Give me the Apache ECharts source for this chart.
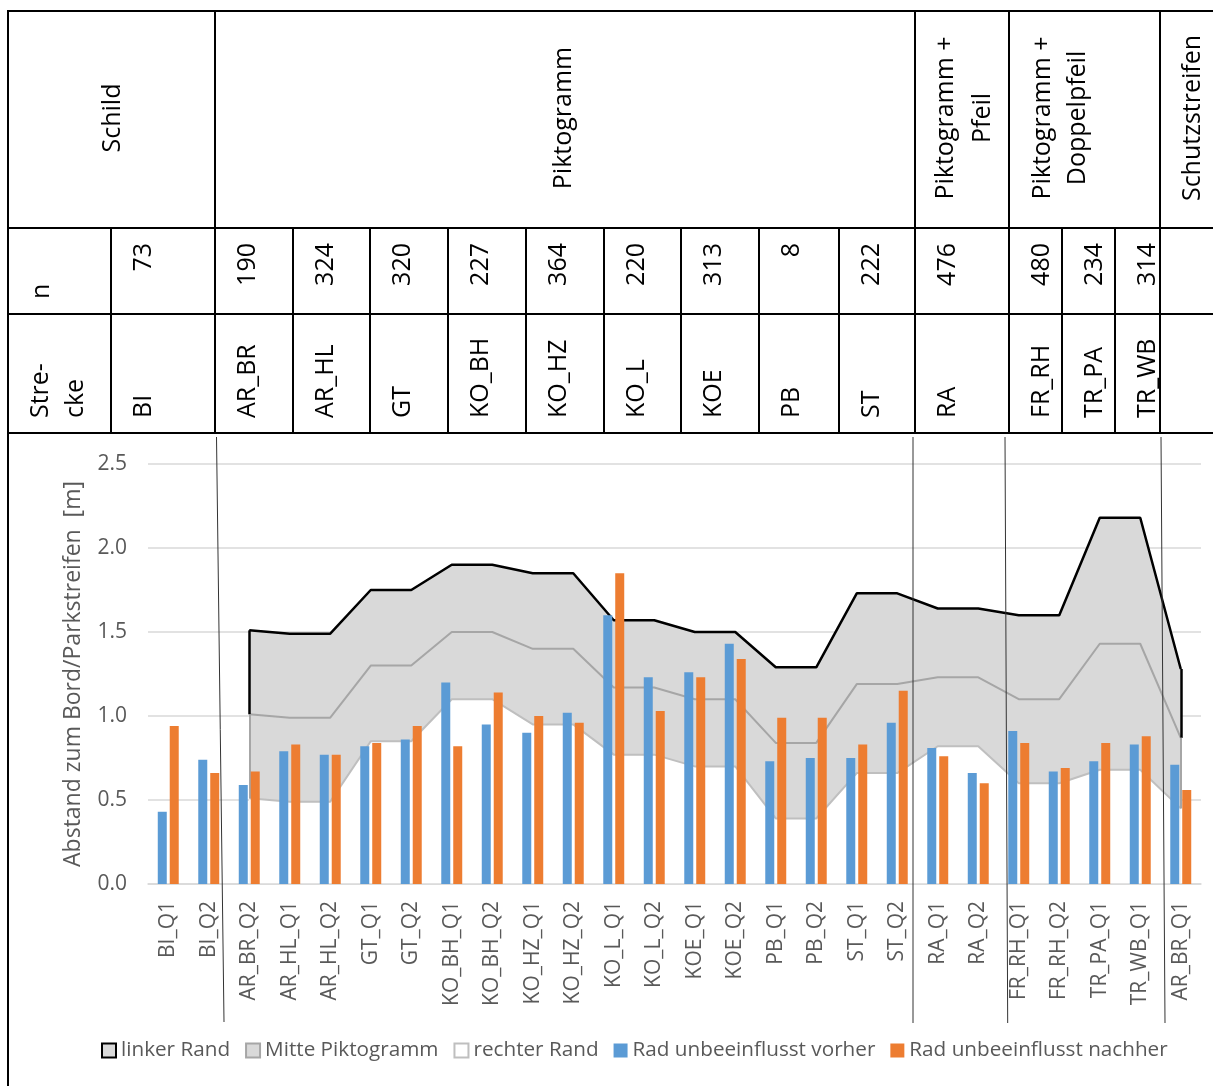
<!DOCTYPE html>
<html>
<head>
<meta charset="utf-8">
<title>Abstand zum Bord/Parkstreifen</title>
<script src="https://cdn.jsdelivr.net/npm/echarts@6/dist/echarts.min.js"></script>
<style>
  html, body { margin: 0; padding: 0; background: #fff; }
  #box { width: 1213px; height: 1086px; }
</style>
</head>
<body>
<div id="box"></div>
<script>
// Kategorien der x-Achse
const categories = ['BI_Q1', 'BI_Q2', 'AR_BR_Q2', 'AR_HL_Q1', 'AR_HL_Q2', 'GT_Q1', 'GT_Q2',
  'KO_BH_Q1', 'KO_BH_Q2', 'KO_HZ_Q1', 'KO_HZ_Q2', 'KO_L_Q1', 'KO_L_Q2', 'KOE_Q1', 'KOE_Q2',
  'PB_Q1', 'PB_Q2', 'ST_Q1', 'ST_Q2', 'RA_Q1', 'RA_Q2', 'FR_RH_Q1', 'FR_RH_Q2',
  'TR_PA_Q1', 'TR_WB_Q1', 'AR_BR_Q1']

// Balken
const vorher = [0.43, 0.74, 0.59, 0.79, 0.77, 0.82, 0.86, 1.20, 0.95, 0.90, 1.02, 1.60, 1.23,
  1.26, 1.43, 0.73, 0.75, 0.75, 0.96, 0.81, 0.66, 0.91, 0.67, 0.73, 0.83, 0.71]
const nachher = [0.94, 0.66, 0.67, 0.83, 0.77, 0.84, 0.94, 0.82, 1.14, 1.00, 0.96, 1.85, 1.03,
  1.23, 1.34, 0.99, 0.99, 0.83, 1.15, 0.76, 0.60, 0.84, 0.69, 0.84, 0.88, 0.56]

// Flaechen (Lage Piktogramm)
const linkerRand = [null, null, 1.51, 1.49, 1.49, 1.75, 1.75, 1.90, 1.90, 1.85, 1.85, 1.57, 1.57,
  1.50, 1.50, 1.29, 1.29, 1.73, 1.73, 1.64, 1.64, 1.60, 1.60, 2.18, 2.18, 1.28]
const mittePiktogramm = [null, null, 1.01, 0.99, 0.99, 1.30, 1.30, 1.50, 1.50, 1.40, 1.40, 1.17, 1.17,
  1.10, 1.10, 0.84, 0.84, 1.19, 1.19, 1.23, 1.23, 1.10, 1.10, 1.43, 1.43, 0.87]
const rechterRand = [null, null, 0.51, 0.49, 0.49, 0.85, 0.85, 1.10, 1.10, 0.95, 0.95, 0.77, 0.77,
  0.70, 0.70, 0.39, 0.39, 0.66, 0.66, 0.82, 0.82, 0.60, 0.60, 0.68, 0.68, 0.45]

// y-Achse
const yTicks = [0.0, 0.5, 1.0, 1.5, 2.0, 2.5]

// Tabelle oben
const gruppen = ['Schild', 'Piktogramm', 'Piktogramm +\nPfeil', 'Piktogramm +\nDoppelpfeil', 'Schutzstreifen']
const strecken = ['BI', 'AR_BR', 'AR_HL', 'GT', 'KO_BH', 'KO_HZ', 'KO_L', 'KOE', 'PB', 'ST', 'RA', 'FR_RH', 'TR_PA', 'TR_WB']
const nWerte = ['73', '190', '324', '320', '227', '364', '220', '313', '8', '222', '476', '480', '234', '314']

// Layout der Tabelle (Pixel)
const spaltenLinks = [111, 215, 293, 370, 448, 526, 604, 681, 759, 839, 915, 1009, 1062, 1115]
const gruppenKanten = [215, 915, 1009, 1160]
const gruppenTextX = [113, 564, 964, 1060, 1193]
const trenner = [[216.5, 437, 224, 1022], [913, 437, 913, 1023], [1005, 437, 1007.7, 1023], [1161, 437, 1165, 1023]]

const FONT = "'Open Sans', sans-serif"
const GREY = '#595959'

const box = document.getElementById('box')
const myChart = echarts.init(box)

function line(x1, y1, x2, y2, w, color) {
  return {
    type: 'line', z: 100, silent: true,
    shape: { x1, y1, x2, y2 },
    style: { stroke: color || '#000', lineWidth: w || 2 }
  }
}

function vText(text, x, y, align, lh) {
  return {
    type: 'text', x, y, rotation: Math.PI / 2, z: 100, silent: true,
    style: {
      text, fill: '#000', fontSize: 25, fontFamily: FONT,
      align, verticalAlign: 'middle', lineHeight: lh || 37
    }
  }
}

const graphics = []
// Rahmen und Raster der Tabelle
graphics.push(line(8, 11, 1213, 11))
graphics.push(line(8, 228, 1213, 228))
graphics.push(line(8, 314, 1213, 314))
graphics.push(line(8, 433, 1213, 433))
graphics.push(line(8, 10, 8, 1086))
gruppenKanten.forEach(x => graphics.push(line(x, 11, x, 433)))
spaltenLinks.forEach(x => {
  if (gruppenKanten.indexOf(x) < 0) graphics.push(line(x, 228, x, 433))
})
// Texte
gruppen.forEach((t, i) => graphics.push(vText(t, gruppenTextX[i], 118, 'center', i === 3 ? 35 : 37)))
graphics.push(vText('n', 42, 299, 'left'))
graphics.push(vText('Stre-\ncke', 58, 418, 'left', 35))
strecken.forEach((t, i) => graphics.push(vText(t, spaltenLinks[i] + 33, 418, 'left')))
nWerte.forEach((t, i) => graphics.push(vText(t, spaltenLinks[i] + 33, 243, 'right')))
// Trennlinien im Diagramm
trenner.forEach(p => graphics.push(line(p[0], p[1], p[2], p[3], 1, '#333')))

// Raender der Flaechen am Anfang und Ende
const first = linkerRand.findIndex(v => v != null)
const last = linkerRand.length - 1 - [...linkerRand].reverse().findIndex(v => v != null)
function kante(unten, oben) {
  return [first, last].map(i => [
    { coord: [categories[i], unten[i]] },
    { coord: [categories[i], oben[i]] }
  ])
}

const option = {
  animation: false,
  textStyle: { fontFamily: FONT },
  grid: { left: 148, right: 12, top: 464, bottom: 202, outerBoundsMode: 'none' },
  legend: {
    left: 96, top: 1035, itemWidth: 14, itemHeight: 14, itemGap: 15,
    textStyle: { color: GREY, fontSize: 20.7, fontFamily: FONT },
    data: [
      { name: 'linker Rand', icon: 'rect', itemStyle: { color: '#d9d9d9', borderColor: '#000', borderWidth: 2 } },
      { name: 'Mitte Piktogramm', icon: 'rect', itemStyle: { color: '#d9d9d9', borderColor: '#a6a6a6', borderWidth: 2 } },
      { name: 'rechter Rand', icon: 'rect', itemStyle: { color: '#fff', borderColor: '#bfbfbf', borderWidth: 2 } },
      { name: 'Rad unbeeinflusst vorher', icon: 'rect' },
      { name: 'Rad unbeeinflusst nachher', icon: 'rect' }
    ]
  },
  xAxis: {
    type: 'category',
    data: categories,
    z: 5,
    axisTick: { show: false },
    axisLine: { lineStyle: { color: '#d9d9d9', width: 1.5 } },
    axisLabel: { interval: 0, rotate: 90, margin: 17, color: GREY, fontSize: 21, fontFamily: FONT }
  },
  yAxis: {
    type: 'value',
    min: yTicks[0],
    max: yTicks[yTicks.length - 1],
    interval: yTicks[1] - yTicks[0],
    name: 'Abstand zum Bord/Parkstreifen  [m]',
    nameLocation: 'middle',
    nameGap: 63,
    nameTextStyle: { color: GREY, fontSize: 23, fontFamily: FONT },
    axisLine: { show: false },
    axisTick: { show: false },
    axisLabel: { color: GREY, fontSize: 21, margin: 21, fontFamily: FONT, formatter: v => v.toFixed(1) },
    splitLine: { lineStyle: { color: '#d9d9d9', width: 1.5 } }
  },
  graphic: graphics,
  series: [
    {
      name: 'linker Rand', type: 'line', data: linkerRand, symbol: 'none', z: 2,
      lineStyle: { color: '#000', width: 2.5 },
      itemStyle: { color: '#d9d9d9' },
      areaStyle: { color: '#d9d9d9', opacity: 1 },
      markLine: {
        silent: true, symbol: ['none', 'none'], label: { show: false },
        lineStyle: { color: '#000', width: 2.5, type: 'solid' },
        data: kante(mittePiktogramm, linkerRand)
      }
    },
    {
      name: 'Mitte Piktogramm', type: 'line', data: mittePiktogramm, symbol: 'none', z: 2,
      lineStyle: { color: '#a6a6a6', width: 2 },
      itemStyle: { color: '#d9d9d9' },
      areaStyle: { color: '#d9d9d9', opacity: 1 },
      markLine: {
        silent: true, symbol: ['none', 'none'], label: { show: false },
        lineStyle: { color: '#a6a6a6', width: 2, type: 'solid' },
        data: kante(rechterRand, mittePiktogramm)
      }
    },
    {
      name: 'rechter Rand', type: 'line', data: rechterRand, symbol: 'none', z: 2,
      lineStyle: { color: '#bfbfbf', width: 2 },
      itemStyle: { color: '#fff' },
      areaStyle: { color: '#fff', opacity: 1 }
    },
    {
      name: 'Rad unbeeinflusst vorher', type: 'bar', data: vorher, z: 6,
      barWidth: 9, barGap: '33%',
      itemStyle: { color: '#5b9bd5' }
    },
    {
      name: 'Rad unbeeinflusst nachher', type: 'bar', data: nachher, z: 6,
      barWidth: 9, barGap: '33%',
      itemStyle: { color: '#ed7d31' }
    }
  ]
}

myChart.setOption(option)
</script>
</body>
</html>
